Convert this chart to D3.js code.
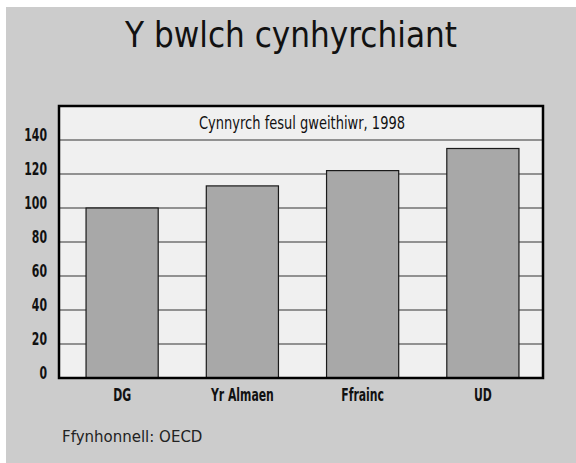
<!DOCTYPE html>
<meta charset="utf-8">
<style>
  body { margin: 0; background: #fff; }
  svg { display: block; }
  .tick text { font-family: "DejaVu Sans", sans-serif; font-weight: bold; font-size: 17px; fill: #111; }
</style>
<body>
<script src="https://cdn.jsdelivr.net/npm/d3@7"></script>
<script>
  var countries = ["DG", "Yr Almaen", "Ffrainc", "UD"];
  var output = [100, 113, 122, 135];
  var yTicks = [0, 20, 40, 60, 80, 100, 120, 140];

  var W = 576, H = 463;
  var mLeft = 59, mRight = 543, mTop = 106, mBottom = 378;

  var svg = d3.select("body").append("svg")
    .attr("width", W)
    .attr("height", H);

  // grey panel
  svg.append("rect")
    .attr("x", 6).attr("y", 7)
    .attr("width", W - 6).attr("height", H - 7)
    .attr("fill", "#cccccc");

  svg.append("text")
    .attr("x", 291).attr("y", 47)
    .attr("text-anchor", "middle")
    .attr("font-family", "'DejaVu Sans', sans-serif")
    .attr("font-size", 36)
    .attr("textLength", 332)
    .attr("lengthAdjust", "spacingAndGlyphs")
    .attr("fill", "#111")
    .text("Y bwlch cynhyrchiant");

  var x = d3.scaleBand()
    .domain(countries)
    .range([mLeft + 3, mRight])
    .paddingInner(0.4)
    .paddingOuter(0.2);

  var y = d3.scaleLinear()
    .domain([0, 160])
    .range([mBottom, mTop]);

  svg.append("rect")
    .attr("x", mLeft).attr("y", mTop)
    .attr("width", mRight - mLeft).attr("height", mBottom - mTop)
    .attr("fill", "#f0f0f0");

  // gridlines, behind the bars
  svg.append("g")
    .selectAll("line")
    .data(yTicks.slice(1))
    .join("line")
      .attr("x1", mLeft).attr("x2", mRight)
      .attr("y1", function(d) { return y(d); })
      .attr("y2", function(d) { return y(d); })
      .attr("stroke", "#333")
      .attr("stroke-width", 1);

  svg.append("g")
    .selectAll("rect")
    .data(output)
    .join("rect")
      .attr("x", function(d, i) { return x(countries[i]); })
      .attr("y", function(d) { return y(d); })
      .attr("width", x.bandwidth())
      .attr("height", function(d) { return y(0) - y(d); })
      .attr("fill", "#a8a8a8")
      .attr("stroke", "#1a1a1a")
      .attr("stroke-width", 1.2);

  // inner title
  svg.append("text")
    .attr("x", 302).attr("y", 129)
    .attr("text-anchor", "middle")
    .attr("font-family", "'DejaVu Sans', sans-serif")
    .attr("font-size", 18)
    .attr("textLength", 206)
    .attr("lengthAdjust", "spacingAndGlyphs")
    .attr("fill", "#111")
    .text("Cynnyrch fesul gweithiwr, 1998");

  // frame
  svg.append("rect")
    .attr("x", mLeft).attr("y", mTop)
    .attr("width", mRight - mLeft).attr("height", mBottom - mTop)
    .attr("fill", "none")
    .attr("stroke", "#000")
    .attr("stroke-width", 2.5);

  var yAxis = svg.append("g")
    .attr("transform", "translate(" + (mLeft - 12) + ",-5)")
    .call(d3.axisLeft(y).tickValues(yTicks).tickSize(0).tickPadding(0));
  yAxis.select(".domain").remove();

  var xAxis = svg.append("g")
    .attr("transform", "translate(0," + (mBottom + 11) + ")")
    .call(d3.axisBottom(x).tickSize(0).tickPadding(0));
  xAxis.select(".domain").remove();
  xAxis.selectAll("text").attr("dy", "0.71em");

  // squeeze the labels to look condensed
  svg.selectAll(".tick text").attr("transform", "scale(0.64,1)");

  svg.append("text")
    .attr("x", 62).attr("y", 442)
    .attr("font-family", "'DejaVu Sans', sans-serif")
    .attr("font-size", 15)
    .attr("fill", "#222")
    .text("Ffynhonnell: OECD");
</script>
</body>
